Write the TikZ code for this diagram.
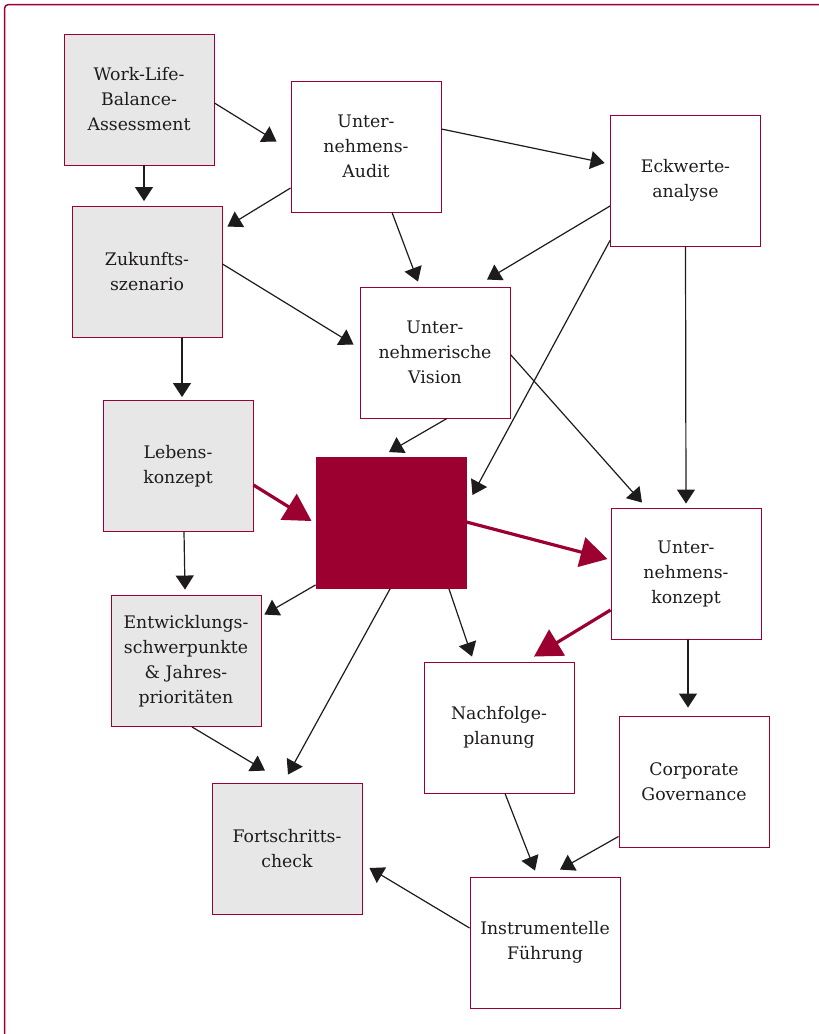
\documentclass[tikz,border=0pt]{standalone}
\usepackage{fontspec}
\setmainfont{DejaVu Serif}
\usetikzlibrary{arrows.meta,calc}
\definecolor{framered}{RGB}{155,0,48}
\definecolor{boxgray}{RGB}{230,231,230}
\definecolor{inkgray}{RGB}{30,27,28}

\begin{document}
\begin{tikzpicture}[x=1pt,y=-1pt,
    font=\fontsize{17.3}{25}\selectfont,
    box/.style={draw=framered,line width=0.9pt,minimum width=150pt,
                minimum height=131pt,inner sep=0pt,align=center,text=inkgray},
    graybox/.style={box,fill=boxgray},
    arr/.style={draw=inkgray,line width=1.2pt,
                -{Triangle[length=14pt,width=18pt]}},
    redarr/.style={draw=framered,line width=3.2pt,
                -{Triangle[length=27pt,width=30pt]}}]
    \useasboundingbox (0,0) rectangle (819,1034);
    % Rahmen
    \draw[framered,line width=1.5pt,rounded corners=4pt] (4.5,4.5) rectangle (840,1055);
    % Kästen links (grau)
    \node[graybox] (wlb)    at (139,99.5)  {Work-Life-\\Balance-\\Assessment};
    \node[graybox] (zuk)    at (147,272)   {Zukunfts-\\szenario};
    \node[graybox] (lebens) at (178,466)   {Lebens-\\konzept};
    \node[graybox] (entw)   at (186,661)   {Entwicklungs-\\schwerpunkte\\\& Jahres-\\prioritäten};
    \node[graybox] (fort)   at (287,848.5) {Fortschritts-\\check};
    % Kästen rechts (weiß)
    \node[box] (audit)  at (366,146.5) {Unter-\\nehmens-\\Audit};
    \node[box] (eck)    at (685.5,180.5) {Eckwerte-\\analyse};
    \node[box] (vision) at (435,352.5) {Unter-\\nehmerische\\Vision};
    \node[box] (ukonz)  at (686,573.5) {Unter-\\nehmens-\\konzept};
    \node[box] (nachf)  at (499,727.5) {Nachfolge-\\planung};
    \node[box] (corp)   at (694,781.5) {Corporate\\Governance};
    \node[box] (instr)  at (545,942.5) {Instrumentelle\\Führung};
    % Zentrum
    \node[box,fill=framered] (core) at (391,523) {};
    % Pfeile
    \draw[arr] ($(wlb.east)+(0,3.5)$) -- ($(audit.west)+(-14,-5)$);
    \draw[arr] ($(wlb.south)+(5,0)$) -- ($(zuk.north)+(-3,-5)$);
    \draw[arr] ($(audit.west)+(0,41.5)$) -- ($(zuk.north east)+(5,20.5)$);
    \draw[arr] ($(audit.east)+(0,-17.5)$) -- ($(eck.west)+(-5.5,-17.5)$);
    \draw[arr] ($(audit.south)+(26,0)$) -- ($(vision.north)+(-17,-5)$);
    \draw[arr] ($(eck.west)+(0,25.5)$) -- ($(vision.north)+(52,-7)$);
    \draw[arr] ($(eck.south west)+(0,-6)$) -- ($(core.east)+(6,-28)$);
    \draw[arr] (eck.south) -- ($(ukonz.north)+(0,-4)$);
    \draw[arr] ($(zuk.east)+(0,-8)$) -- ($(vision.west)+(-6,-8)$);
    \draw[arr] ($(zuk.south)+(35,0)$) -- ($(lebens.north)+(4,-3)$);
    \draw[arr] ($(vision.south)+(12,0)$) -- ($(core.north)+(-2,-5)$);
    \draw[arr] ($(vision.east)+(0,2)$) -- ($(ukonz.north)+(-44,-5)$);
    \draw[arr] ($(lebens.south)+(6,0)$) -- ($(entw.north)+(-1,-5.5)$);
    \draw[arr] ($(core.south west)+(0,-4)$) -- ($(entw.north east)+(3,19.5)$);
    \draw[arr] ($(core.south)+(58,0)$) -- ($(nachf.north)+(-27,-5)$);
    \draw[arr] ($(core.south)+(-1,0)$) -- ($(fort.north)+(1,-8)$);
    \draw[arr] ($(ukonz.south)+(2,0)$) -- ($(corp.north)+(-6,-8)$);
    \draw[arr] ($(entw.south)+(6,0)$) -- ($(fort.north)+(-22,-12)$);
    \draw[arr] ($(nachf.south)+(6,0)$) -- ($(instr.north)+(-10,-6)$);
    \draw[arr] ($(corp.south west)+(0,-11)$) -- ($(instr.north)+(15,-7)$);
    \draw[arr] ($(instr.west)+(0,-14.5)$) -- ($(fort.east)+(7,19.5)$);
    % rote Pfeile
    \draw[redarr] ($(lebens.east)+(0,19)$) -- ($(core.west)+(-4,-2)$);
    \draw[redarr] ($(core.east)+(0,-1)$) -- ($(ukonz.west)+(-3,-14.5)$);
    \draw[redarr] ($(ukonz.west)+(0,36.5)$) -- ($(nachf.north)+(35,-5)$);
\end{tikzpicture}
\end{document}
